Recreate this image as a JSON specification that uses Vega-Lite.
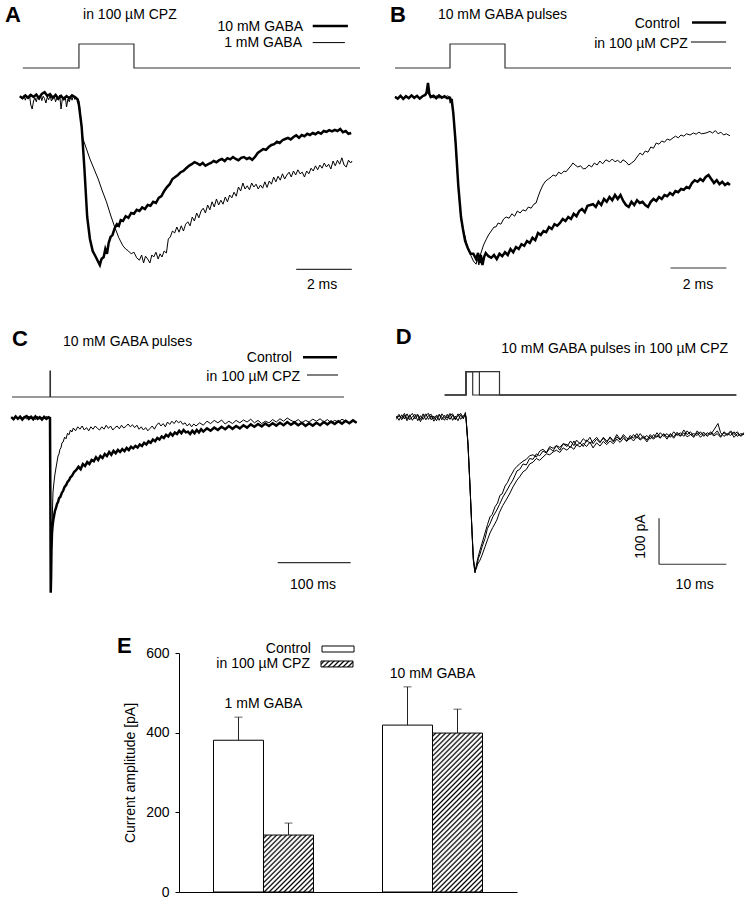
{
"$schema":"https://vega.github.io/schema/vega-lite/v6.json",
"padding":0,
"background":"white",
"config":{
 "view":{"stroke":null},
 "font":"Liberation Sans",
 "text":{"font":"Liberation Sans","fontSize":14,"baseline":"middle","color":"#000"},
 "axis":{"labelFont":"Liberation Sans","titleFont":"Liberation Sans","labelFontSize":14,"titleFontSize":14,"titleFontWeight":"normal","labelColor":"#000","titleColor":"#000","domainColor":"#000","tickColor":"#000","grid":false}
},
"params":[{"name":"hatch","value":[
{"offset":0,"color":"#fff"},{"offset":0.0071,"color":"#fff"},{"offset":0.0155,"color":"#000"},
{"offset":0.0238,"color":"#fff"},{"offset":0.0310,"color":"#fff"},{"offset":0.0393,"color":"#000"},
{"offset":0.0476,"color":"#fff"},{"offset":0.0548,"color":"#fff"},{"offset":0.0631,"color":"#000"},
{"offset":0.0714,"color":"#fff"},{"offset":0.0786,"color":"#fff"},{"offset":0.0869,"color":"#000"},
{"offset":0.0952,"color":"#fff"},{"offset":0.1024,"color":"#fff"},{"offset":0.1107,"color":"#000"},
{"offset":0.1190,"color":"#fff"},{"offset":0.1262,"color":"#fff"},{"offset":0.1345,"color":"#000"},
{"offset":0.1429,"color":"#fff"},{"offset":0.1500,"color":"#fff"},{"offset":0.1583,"color":"#000"},
{"offset":0.1667,"color":"#fff"},{"offset":0.1738,"color":"#fff"},{"offset":0.1821,"color":"#000"},
{"offset":0.1905,"color":"#fff"},{"offset":0.1976,"color":"#fff"},{"offset":0.2060,"color":"#000"},
{"offset":0.2143,"color":"#fff"},{"offset":0.2214,"color":"#fff"},{"offset":0.2298,"color":"#000"},
{"offset":0.2381,"color":"#fff"},{"offset":0.2452,"color":"#fff"},{"offset":0.2536,"color":"#000"},
{"offset":0.2619,"color":"#fff"},{"offset":0.2690,"color":"#fff"},{"offset":0.2774,"color":"#000"},
{"offset":0.2857,"color":"#fff"},{"offset":0.2929,"color":"#fff"},{"offset":0.3012,"color":"#000"},
{"offset":0.3095,"color":"#fff"},{"offset":0.3167,"color":"#fff"},{"offset":0.3250,"color":"#000"},
{"offset":0.3333,"color":"#fff"},{"offset":0.3405,"color":"#fff"},{"offset":0.3488,"color":"#000"},
{"offset":0.3571,"color":"#fff"},{"offset":0.3643,"color":"#fff"},{"offset":0.3726,"color":"#000"},
{"offset":0.3810,"color":"#fff"},{"offset":0.3881,"color":"#fff"},{"offset":0.3964,"color":"#000"},
{"offset":0.4048,"color":"#fff"},{"offset":0.4119,"color":"#fff"},{"offset":0.4202,"color":"#000"},
{"offset":0.4286,"color":"#fff"},{"offset":0.4357,"color":"#fff"},{"offset":0.4440,"color":"#000"},
{"offset":0.4524,"color":"#fff"},{"offset":0.4595,"color":"#fff"},{"offset":0.4679,"color":"#000"},
{"offset":0.4762,"color":"#fff"},{"offset":0.4833,"color":"#fff"},{"offset":0.4917,"color":"#000"},
{"offset":0.5000,"color":"#fff"},{"offset":0.5071,"color":"#fff"},{"offset":0.5155,"color":"#000"},
{"offset":0.5238,"color":"#fff"},{"offset":0.5310,"color":"#fff"},{"offset":0.5393,"color":"#000"},
{"offset":0.5476,"color":"#fff"},{"offset":0.5548,"color":"#fff"},{"offset":0.5631,"color":"#000"},
{"offset":0.5714,"color":"#fff"},{"offset":0.5786,"color":"#fff"},{"offset":0.5869,"color":"#000"},
{"offset":0.5952,"color":"#fff"},{"offset":0.6024,"color":"#fff"},{"offset":0.6107,"color":"#000"},
{"offset":0.6190,"color":"#fff"},{"offset":0.6262,"color":"#fff"},{"offset":0.6345,"color":"#000"},
{"offset":0.6429,"color":"#fff"},{"offset":0.6500,"color":"#fff"},{"offset":0.6583,"color":"#000"},
{"offset":0.6667,"color":"#fff"},{"offset":0.6738,"color":"#fff"},{"offset":0.6821,"color":"#000"},
{"offset":0.6905,"color":"#fff"},{"offset":0.6976,"color":"#fff"},{"offset":0.7060,"color":"#000"},
{"offset":0.7143,"color":"#fff"},{"offset":0.7214,"color":"#fff"},{"offset":0.7298,"color":"#000"},
{"offset":0.7381,"color":"#fff"},{"offset":0.7452,"color":"#fff"},{"offset":0.7536,"color":"#000"},
{"offset":0.7619,"color":"#fff"},{"offset":0.7690,"color":"#fff"},{"offset":0.7774,"color":"#000"},
{"offset":0.7857,"color":"#fff"},{"offset":0.7929,"color":"#fff"},{"offset":0.8012,"color":"#000"},
{"offset":0.8095,"color":"#fff"},{"offset":0.8167,"color":"#fff"},{"offset":0.8250,"color":"#000"},
{"offset":0.8333,"color":"#fff"},{"offset":0.8405,"color":"#fff"},{"offset":0.8488,"color":"#000"},
{"offset":0.8571,"color":"#fff"},{"offset":0.8643,"color":"#fff"},{"offset":0.8726,"color":"#000"},
{"offset":0.8810,"color":"#fff"},{"offset":0.8881,"color":"#fff"},{"offset":0.8964,"color":"#000"},
{"offset":0.9048,"color":"#fff"},{"offset":0.9119,"color":"#fff"},{"offset":0.9202,"color":"#000"},
{"offset":0.9286,"color":"#fff"},{"offset":0.9357,"color":"#fff"},{"offset":0.9440,"color":"#000"},
{"offset":0.9524,"color":"#fff"},{"offset":0.9595,"color":"#fff"},{"offset":0.9679,"color":"#000"},
{"offset":0.9762,"color":"#fff"},{"offset":0.9833,"color":"#fff"},{"offset":0.9917,"color":"#000"},
{"offset":1,"color":"#fff"}
]}],
"datasets":{
"stimA":[{"t":-2.04,"i":72.5},{"t":0,"i":72.5},{"t":0.001,"i":132.5},{"t":2.0,"i":132.5},{"t":2.001,"i":72.5},{"t":10.22,"i":72.5}],
"stimB":[{"t":-2.0,"i":72.5},{"t":0,"i":72.5},{"t":0.001,"i":132.5},{"t":2.0,"i":132.5},{"t":2.001,"i":72.5},{"t":10.22,"i":72.5}],
"stimC":[{"t":-52,"i":52.5},{"t":0,"i":52.5},{"t":0.01,"i":117.5},{"t":0.6,"i":117.5},{"t":0.61,"i":52.5},{"t":402.7,"i":52.5}],
"stimD":[{"s":1,"t":-3.18,"i":50},{"s":1,"t":0,"i":50},{"s":1,"t":0.001,"i":100.7},{"s":1,"t":1,"i":100.7},{"s":1,"t":1.001,"i":50},{"s":1,"t":40.34,"i":50},
{"s":2,"t":-3.18,"i":50},{"s":2,"t":0,"i":50},{"s":2,"t":0.001,"i":100.7},{"s":2,"t":2,"i":100.7},{"s":2,"t":2.001,"i":50},{"s":2,"t":40.34,"i":50},
{"s":5,"t":-3.18,"i":50},{"s":5,"t":0,"i":50},{"s":5,"t":0.001,"i":100.7},{"s":5,"t":5,"i":100.7},{"s":5,"t":5.001,"i":50},{"s":5,"t":40.34,"i":50}],
"a10":[{"t":-2.15,"i":2},{"t":-2.05,"i":-3},{"t":-1.95,"i":4},{"t":-1.85,"i":-2},{"t":-1.75,"i":5},{"t":-1.65,"i":0},{"t":-1.55,"i":6},{"t":-1.45,"i":-3},{"t":-1.35,"i":8},{"t":-1.25,"i":12},{"t":-1.15,"i":3},{"t":-1.05,"i":7},{"t":-0.95,"i":-2},{"t":-0.85,"i":5},{"t":-0.75,"i":-4},{"t":-0.65,"i":3},{"t":-0.55,"i":-5},{"t":-0.45,"i":2},{"t":-0.35,"i":-3},{"t":-0.25,"i":4},{"t":-0.15,"i":0},{"t":-0.05,"i":-6},{"t":0,"i":-20},{"t":0.1,"i":-75},{"t":0.2,"i":-180},{"t":0.3,"i":-300},{"t":0.4,"i":-355},{"t":0.5,"i":-385},{"t":0.6,"i":-398},{"t":0.7,"i":-412},{"t":0.76,"i":-420},{"t":0.82,"i":-405},{"t":0.9,"i":-400},{"t":0.96,"i":-380},{"t":1.02,"i":-392},{"t":1.08,"i":-365},{"t":1.15,"i":-350},{"t":1.22,"i":-345},{"t":1.3,"i":-328},{"t":1.38,"i":-318},{"t":1.45,"i":-322},{"t":1.52,"i":-308},{"t":1.6,"i":-310},{"t":1.7,"i":-298},{"t":1.8,"i":-302},{"t":1.9,"i":-290},{"t":2.0,"i":-292},{"t":2.1,"i":-282},{"t":2.2,"i":-285},{"t":2.3,"i":-276},{"t":2.4,"i":-280},{"t":2.5,"i":-270},{"t":2.6,"i":-272},{"t":2.7,"i":-262},{"t":2.8,"i":-265},{"t":2.9,"i":-252},{"t":3.0,"i":-248},{"t":3.1,"i":-235},{"t":3.2,"i":-225},{"t":3.3,"i":-218},{"t":3.4,"i":-205},{"t":3.5,"i":-200},{"t":3.6,"i":-195},{"t":3.7,"i":-188},{"t":3.8,"i":-185},{"t":3.9,"i":-178},{"t":4.0,"i":-172},{"t":4.1,"i":-168},{"t":4.2,"i":-163},{"t":4.3,"i":-166},{"t":4.4,"i":-170},{"t":4.5,"i":-165},{"t":4.6,"i":-172},{"t":4.7,"i":-168},{"t":4.8,"i":-165},{"t":4.9,"i":-160},{"t":5.0,"i":-163},{"t":5.1,"i":-158},{"t":5.2,"i":-155},{"t":5.3,"i":-160},{"t":5.4,"i":-153},{"t":5.5,"i":-156},{"t":5.6,"i":-150},{"t":5.7,"i":-155},{"t":5.8,"i":-158},{"t":5.9,"i":-152},{"t":6.0,"i":-150},{"t":6.1,"i":-155},{"t":6.2,"i":-152},{"t":6.3,"i":-157},{"t":6.4,"i":-150},{"t":6.5,"i":-140},{"t":6.6,"i":-135},{"t":6.7,"i":-130},{"t":6.8,"i":-132},{"t":6.9,"i":-125},{"t":7.0,"i":-120},{"t":7.1,"i":-118},{"t":7.2,"i":-112},{"t":7.3,"i":-115},{"t":7.4,"i":-108},{"t":7.5,"i":-105},{"t":7.6,"i":-102},{"t":7.7,"i":-106},{"t":7.8,"i":-100},{"t":7.9,"i":-96},{"t":8.0,"i":-102},{"t":8.1,"i":-95},{"t":8.2,"i":-98},{"t":8.3,"i":-92},{"t":8.4,"i":-95},{"t":8.5,"i":-90},{"t":8.6,"i":-93},{"t":8.7,"i":-88},{"t":8.8,"i":-92},{"t":8.9,"i":-85},{"t":9.0,"i":-87},{"t":9.1,"i":-83},{"t":9.2,"i":-86},{"t":9.3,"i":-82},{"t":9.4,"i":-85},{"t":9.5,"i":-80},{"t":9.6,"i":-88},{"t":9.7,"i":-85},{"t":9.8,"i":-92},{"t":9.9,"i":-90}],
"a1":[{"t":-2.15,"i":0},{"t":-2.05,"i":-5},{"t":-2.0,"i":4},{"t":-1.95,"i":-8},{"t":-1.9,"i":2},{"t":-1.85,"i":-4},{"t":-1.8,"i":6},{"t":-1.75,"i":-20},{"t":-1.7,"i":-30},{"t":-1.65,"i":-10},{"t":-1.6,"i":-2},{"t":-1.55,"i":-12},{"t":-1.5,"i":3},{"t":-1.45,"i":-6},{"t":-1.4,"i":5},{"t":-1.35,"i":-9},{"t":-1.3,"i":2},{"t":-1.25,"i":-4},{"t":-1.2,"i":-15},{"t":-1.15,"i":0},{"t":-1.1,"i":-7},{"t":-1.05,"i":4},{"t":-1.0,"i":-10},{"t":-0.95,"i":-3},{"t":-0.9,"i":3},{"t":-0.85,"i":-12},{"t":-0.8,"i":-2},{"t":-0.75,"i":-8},{"t":-0.7,"i":5},{"t":-0.65,"i":-30},{"t":-0.6,"i":-3},{"t":-0.55,"i":-8},{"t":-0.5,"i":2},{"t":-0.45,"i":-25},{"t":-0.4,"i":-5},{"t":-0.35,"i":-12},{"t":-0.3,"i":0},{"t":-0.25,"i":-8},{"t":-0.2,"i":4},{"t":-0.15,"i":-6},{"t":-0.1,"i":0},{"t":-0.05,"i":-3},{"t":0.0,"i":-10},{"t":0.05,"i":-40},{"t":0.1,"i":-80},{"t":0.15,"i":-105},{"t":0.25,"i":-125},{"t":0.4,"i":-155},{"t":0.55,"i":-180},{"t":0.7,"i":-205},{"t":0.85,"i":-235},{"t":1.0,"i":-262},{"t":1.15,"i":-295},{"t":1.3,"i":-325},{"t":1.45,"i":-352},{"t":1.6,"i":-372},{"t":1.7,"i":-380},{"t":1.8,"i":-385},{"t":1.9,"i":-392},{"t":2.0,"i":-388},{"t":2.1,"i":-402},{"t":2.2,"i":-408},{"t":2.28,"i":-395},{"t":2.35,"i":-415},{"t":2.42,"i":-398},{"t":2.5,"i":-405},{"t":2.58,"i":-415},{"t":2.65,"i":-395},{"t":2.72,"i":-400},{"t":2.8,"i":-388},{"t":2.88,"i":-405},{"t":2.95,"i":-392},{"t":3.02,"i":-400},{"t":3.1,"i":-385},{"t":3.18,"i":-390},{"t":3.25,"i":-355},{"t":3.32,"i":-350},{"t":3.4,"i":-335},{"t":3.48,"i":-340},{"t":3.56,"i":-325},{"t":3.64,"i":-338},{"t":3.72,"i":-322},{"t":3.8,"i":-335},{"t":3.88,"i":-318},{"t":3.96,"i":-312},{"t":4.04,"i":-322},{"t":4.12,"i":-300},{"t":4.2,"i":-310},{"t":4.28,"i":-290},{"t":4.36,"i":-302},{"t":4.44,"i":-285},{"t":4.52,"i":-278},{"t":4.6,"i":-290},{"t":4.68,"i":-270},{"t":4.76,"i":-282},{"t":4.84,"i":-262},{"t":4.92,"i":-275},{"t":5.0,"i":-255},{"t":5.08,"i":-270},{"t":5.16,"i":-258},{"t":5.24,"i":-268},{"t":5.32,"i":-250},{"t":5.4,"i":-262},{"t":5.48,"i":-245},{"t":5.56,"i":-252},{"t":5.64,"i":-238},{"t":5.72,"i":-248},{"t":5.8,"i":-225},{"t":5.88,"i":-235},{"t":5.96,"i":-215},{"t":6.04,"i":-230},{"t":6.12,"i":-222},{"t":6.2,"i":-232},{"t":6.28,"i":-215},{"t":6.36,"i":-225},{"t":6.44,"i":-218},{"t":6.52,"i":-230},{"t":6.6,"i":-220},{"t":6.68,"i":-228},{"t":6.76,"i":-212},{"t":6.84,"i":-226},{"t":6.92,"i":-210},{"t":7.0,"i":-218},{"t":7.08,"i":-200},{"t":7.16,"i":-212},{"t":7.24,"i":-198},{"t":7.32,"i":-208},{"t":7.4,"i":-192},{"t":7.48,"i":-205},{"t":7.56,"i":-195},{"t":7.64,"i":-188},{"t":7.72,"i":-200},{"t":7.8,"i":-185},{"t":7.88,"i":-195},{"t":7.96,"i":-182},{"t":8.04,"i":-192},{"t":8.12,"i":-188},{"t":8.2,"i":-200},{"t":8.28,"i":-185},{"t":8.36,"i":-192},{"t":8.44,"i":-178},{"t":8.52,"i":-185},{"t":8.6,"i":-172},{"t":8.68,"i":-182},{"t":8.76,"i":-170},{"t":8.84,"i":-178},{"t":8.92,"i":-165},{"t":9.0,"i":-175},{"t":9.08,"i":-168},{"t":9.16,"i":-180},{"t":9.24,"i":-160},{"t":9.32,"i":-172},{"t":9.4,"i":-158},{"t":9.48,"i":-168},{"t":9.56,"i":-152},{"t":9.64,"i":-170},{"t":9.72,"i":-175},{"t":9.8,"i":-158},{"t":9.88,"i":-165},{"t":9.93,"i":-160}],
"bc":[{"t":-2.0,"i":0},{"t":-1.9,"i":-4},{"t":-1.8,"i":3},{"t":-1.7,"i":-5},{"t":-1.6,"i":2},{"t":-1.5,"i":-3},{"t":-1.4,"i":4},{"t":-1.3,"i":-2},{"t":-1.2,"i":3},{"t":-1.1,"i":-4},{"t":-1.0,"i":2},{"t":-0.9,"i":5},{"t":-0.85,"i":12},{"t":-0.8,"i":35},{"t":-0.75,"i":8},{"t":-0.7,"i":0},{"t":-0.6,"i":3},{"t":-0.5,"i":-3},{"t":-0.4,"i":4},{"t":-0.3,"i":-2},{"t":-0.2,"i":2},{"t":-0.1,"i":-3},{"t":0.0,"i":-2},{"t":0.03,"i":-15},{"t":0.06,"i":-5},{"t":0.12,"i":-40},{"t":0.2,"i":-110},{"t":0.3,"i":-220},{"t":0.4,"i":-300},{"t":0.47,"i":-330},{"t":0.55,"i":-360},{"t":0.65,"i":-378},{"t":0.75,"i":-392},{"t":0.85,"i":-392},{"t":0.95,"i":-405},{"t":1.02,"i":-390},{"t":1.08,"i":-415},{"t":1.12,"i":-395},{"t":1.18,"i":-420},{"t":1.24,"i":-400},{"t":1.3,"i":-390},{"t":1.4,"i":-398},{"t":1.5,"i":-402},{"t":1.6,"i":-395},{"t":1.7,"i":-405},{"t":1.8,"i":-392},{"t":1.9,"i":-398},{"t":2.0,"i":-388},{"t":2.1,"i":-395},{"t":2.2,"i":-380},{"t":2.3,"i":-388},{"t":2.4,"i":-375},{"t":2.5,"i":-380},{"t":2.6,"i":-368},{"t":2.7,"i":-372},{"t":2.8,"i":-360},{"t":2.9,"i":-365},{"t":3.0,"i":-352},{"t":3.1,"i":-358},{"t":3.2,"i":-340},{"t":3.3,"i":-345},{"t":3.4,"i":-335},{"t":3.5,"i":-338},{"t":3.6,"i":-325},{"t":3.7,"i":-330},{"t":3.8,"i":-318},{"t":3.9,"i":-322},{"t":4.0,"i":-315},{"t":4.1,"i":-305},{"t":4.2,"i":-310},{"t":4.3,"i":-300},{"t":4.4,"i":-305},{"t":4.5,"i":-292},{"t":4.6,"i":-298},{"t":4.7,"i":-285},{"t":4.8,"i":-280},{"t":4.9,"i":-288},{"t":5.0,"i":-272},{"t":5.1,"i":-270},{"t":5.2,"i":-268},{"t":5.3,"i":-275},{"t":5.4,"i":-262},{"t":5.5,"i":-270},{"t":5.6,"i":-255},{"t":5.7,"i":-262},{"t":5.8,"i":-250},{"t":5.9,"i":-258},{"t":6.0,"i":-245},{"t":6.1,"i":-255},{"t":6.2,"i":-245},{"t":6.3,"i":-260},{"t":6.4,"i":-270},{"t":6.5,"i":-275},{"t":6.6,"i":-262},{"t":6.7,"i":-270},{"t":6.8,"i":-258},{"t":6.9,"i":-265},{"t":7.0,"i":-262},{"t":7.1,"i":-270},{"t":7.2,"i":-275},{"t":7.3,"i":-262},{"t":7.4,"i":-255},{"t":7.5,"i":-260},{"t":7.6,"i":-250},{"t":7.7,"i":-255},{"t":7.8,"i":-245},{"t":7.9,"i":-248},{"t":8.0,"i":-240},{"t":8.1,"i":-245},{"t":8.2,"i":-235},{"t":8.3,"i":-238},{"t":8.4,"i":-230},{"t":8.5,"i":-232},{"t":8.6,"i":-225},{"t":8.7,"i":-228},{"t":8.8,"i":-215},{"t":8.9,"i":-208},{"t":9.0,"i":-212},{"t":9.1,"i":-205},{"t":9.2,"i":-210},{"t":9.3,"i":-200},{"t":9.4,"i":-195},{"t":9.5,"i":-205},{"t":9.6,"i":-215},{"t":9.7,"i":-208},{"t":9.8,"i":-218},{"t":9.9,"i":-212},{"t":10.0,"i":-220},{"t":10.1,"i":-215},{"t":10.18,"i":-220}],
"bz":[{"t":-2.0,"i":2},{"t":-1.9,"i":-3},{"t":-1.8,"i":4},{"t":-1.7,"i":-2},{"t":-1.6,"i":3},{"t":-1.5,"i":-4},{"t":-1.4,"i":2},{"t":-1.3,"i":-3},{"t":-1.2,"i":5},{"t":-1.1,"i":-2},{"t":-1.0,"i":3},{"t":-0.9,"i":6},{"t":-0.8,"i":10},{"t":-0.7,"i":2},{"t":-0.6,"i":-2},{"t":-0.5,"i":3},{"t":-0.4,"i":-3},{"t":-0.3,"i":2},{"t":-0.2,"i":-2},{"t":-0.1,"i":3},{"t":0.0,"i":0},{"t":0.06,"i":-8},{"t":0.12,"i":-45},{"t":0.2,"i":-115},{"t":0.3,"i":-225},{"t":0.4,"i":-305},{"t":0.47,"i":-330},{"t":0.55,"i":-350},{"t":0.65,"i":-380},{"t":0.75,"i":-395},{"t":0.85,"i":-410},{"t":0.95,"i":-418},{"t":1.0,"i":-405},{"t":1.05,"i":-420},{"t":1.1,"i":-395},{"t":1.15,"i":-385},{"t":1.22,"i":-370},{"t":1.31,"i":-357},{"t":1.4,"i":-345},{"t":1.5,"i":-335},{"t":1.6,"i":-325},{"t":1.67,"i":-325},{"t":1.75,"i":-315},{"t":1.85,"i":-318},{"t":1.95,"i":-305},{"t":2.04,"i":-300},{"t":2.15,"i":-303},{"t":2.25,"i":-292},{"t":2.35,"i":-298},{"t":2.45,"i":-285},{"t":2.55,"i":-290},{"t":2.65,"i":-282},{"t":2.75,"i":-285},{"t":2.85,"i":-275},{"t":2.95,"i":-278},{"t":3.05,"i":-268},{"t":3.13,"i":-265},{"t":3.2,"i":-250},{"t":3.28,"i":-235},{"t":3.38,"i":-220},{"t":3.48,"i":-210},{"t":3.58,"i":-205},{"t":3.68,"i":-200},{"t":3.75,"i":-195},{"t":3.85,"i":-198},{"t":3.95,"i":-188},{"t":4.05,"i":-192},{"t":4.15,"i":-185},{"t":4.22,"i":-187},{"t":4.3,"i":-180},{"t":4.4,"i":-172},{"t":4.47,"i":-165},{"t":4.55,"i":-170},{"t":4.65,"i":-175},{"t":4.75,"i":-172},{"t":4.85,"i":-180},{"t":4.95,"i":-178},{"t":5.05,"i":-170},{"t":5.15,"i":-175},{"t":5.25,"i":-165},{"t":5.35,"i":-170},{"t":5.45,"i":-160},{"t":5.55,"i":-167},{"t":5.67,"i":-157},{"t":5.8,"i":-162},{"t":5.9,"i":-155},{"t":6.0,"i":-162},{"t":6.1,"i":-158},{"t":6.2,"i":-165},{"t":6.29,"i":-157},{"t":6.4,"i":-162},{"t":6.5,"i":-170},{"t":6.6,"i":-165},{"t":6.7,"i":-160},{"t":6.8,"i":-150},{"t":6.91,"i":-140},{"t":7.0,"i":-145},{"t":7.1,"i":-135},{"t":7.2,"i":-138},{"t":7.3,"i":-125},{"t":7.4,"i":-128},{"t":7.5,"i":-115},{"t":7.6,"i":-118},{"t":7.7,"i":-110},{"t":7.8,"i":-113},{"t":7.9,"i":-105},{"t":8.0,"i":-108},{"t":8.11,"i":-102},{"t":8.2,"i":-98},{"t":8.3,"i":-102},{"t":8.4,"i":-95},{"t":8.5,"i":-98},{"t":8.6,"i":-92},{"t":8.73,"i":-95},{"t":8.85,"i":-90},{"t":8.95,"i":-93},{"t":9.05,"i":-88},{"t":9.15,"i":-92},{"t":9.31,"i":-90},{"t":9.45,"i":-86},{"t":9.55,"i":-90},{"t":9.65,"i":-84},{"t":9.75,"i":-92},{"t":9.85,"i":-88},{"t":9.95,"i":-95},{"t":10.05,"i":-92},{"t":10.18,"i":-97}],
"cc":[{"t":-53,"i":2},{"t":-50,"i":-3},{"t":-47,"i":4},{"t":-44,"i":-2},{"t":-41,"i":3},{"t":-38,"i":-4},{"t":-35,"i":2},{"t":-32,"i":5},{"t":-29,"i":-2},{"t":-26,"i":3},{"t":-23,"i":-3},{"t":-20,"i":4},{"t":-17,"i":-2},{"t":-14,"i":2},{"t":-11,"i":-4},{"t":-8,"i":3},{"t":-5,"i":-2},{"t":-2,"i":2},{"t":0,"i":0},{"t":0.5,"i":-200},{"t":1.0,"i":-437},{"t":1.5,"i":-400},{"t":2.0,"i":-330},{"t":2.7,"i":-290},{"t":3.5,"i":-270},{"t":4.5,"i":-255},{"t":5.5,"i":-245},{"t":6.8,"i":-232},{"t":8.2,"i":-225},{"t":9.6,"i":-215},{"t":11,"i":-210},{"t":12.5,"i":-200},{"t":14,"i":-198},{"t":16,"i":-188},{"t":18,"i":-182},{"t":20,"i":-172},{"t":22,"i":-168},{"t":24,"i":-160},{"t":26,"i":-156},{"t":28,"i":-148},{"t":30,"i":-145},{"t":33,"i":-135},{"t":36,"i":-130},{"t":39,"i":-122},{"t":42,"i":-128},{"t":45,"i":-115},{"t":48,"i":-120},{"t":51,"i":-110},{"t":54,"i":-115},{"t":57,"i":-105},{"t":60,"i":-108},{"t":63,"i":-98},{"t":66,"i":-105},{"t":69,"i":-95},{"t":72,"i":-100},{"t":75,"i":-90},{"t":78,"i":-95},{"t":81,"i":-85},{"t":84,"i":-92},{"t":87,"i":-82},{"t":90,"i":-88},{"t":93,"i":-80},{"t":96,"i":-85},{"t":99,"i":-78},{"t":102,"i":-83},{"t":105,"i":-75},{"t":108,"i":-80},{"t":111,"i":-72},{"t":114,"i":-76},{"t":117,"i":-70},{"t":120,"i":-74},{"t":123,"i":-66},{"t":126,"i":-70},{"t":129,"i":-62},{"t":132,"i":-66},{"t":135,"i":-58},{"t":138,"i":-62},{"t":141,"i":-54},{"t":144,"i":-58},{"t":147,"i":-50},{"t":150,"i":-54},{"t":153,"i":-46},{"t":156,"i":-50},{"t":159,"i":-42},{"t":162,"i":-46},{"t":165,"i":-38},{"t":168,"i":-44},{"t":171,"i":-36},{"t":174,"i":-40},{"t":177,"i":-32},{"t":180,"i":-38},{"t":183,"i":-30},{"t":186,"i":-36},{"t":189,"i":-34},{"t":192,"i":-40},{"t":195,"i":-32},{"t":198,"i":-38},{"t":201,"i":-30},{"t":204,"i":-36},{"t":207,"i":-28},{"t":210,"i":-34},{"t":215,"i":-26},{"t":220,"i":-32},{"t":225,"i":-24},{"t":230,"i":-30},{"t":235,"i":-22},{"t":240,"i":-28},{"t":245,"i":-20},{"t":250,"i":-27},{"t":255,"i":-20},{"t":260,"i":-26},{"t":265,"i":-18},{"t":270,"i":-24},{"t":275,"i":-16},{"t":280,"i":-22},{"t":285,"i":-15},{"t":290,"i":-21},{"t":295,"i":-14},{"t":300,"i":-20},{"t":305,"i":-13},{"t":310,"i":-19},{"t":315,"i":-12},{"t":320,"i":-18},{"t":325,"i":-10},{"t":330,"i":-17},{"t":335,"i":-11},{"t":340,"i":-18},{"t":345,"i":-12},{"t":350,"i":-20},{"t":355,"i":-13},{"t":360,"i":-19},{"t":365,"i":-12},{"t":370,"i":-18},{"t":375,"i":-10},{"t":380,"i":-16},{"t":385,"i":-9},{"t":390,"i":-15},{"t":395,"i":-8},{"t":400,"i":-14},{"t":405,"i":-7},{"t":410,"i":-13},{"t":415,"i":-6},{"t":420,"i":-12}],
"cz":[{"t":-53,"i":3},{"t":-50,"i":-4},{"t":-47,"i":5},{"t":-44,"i":-2},{"t":-41,"i":6},{"t":-38,"i":0},{"t":-35,"i":4},{"t":-32,"i":-3},{"t":-29,"i":5},{"t":-26,"i":-2},{"t":-23,"i":3},{"t":-20,"i":-4},{"t":-17,"i":4},{"t":-14,"i":-3},{"t":-11,"i":2},{"t":-8,"i":-2},{"t":-5,"i":4},{"t":-2,"i":0},{"t":0,"i":0},{"t":0.7,"i":-250},{"t":1.4,"i":-405},{"t":2.1,"i":-330},{"t":2.7,"i":-290},{"t":3.4,"i":-230},{"t":4.1,"i":-185},{"t":5.5,"i":-160},{"t":6.8,"i":-140},{"t":8.2,"i":-125},{"t":9.6,"i":-110},{"t":11,"i":-95},{"t":12.3,"i":-90},{"t":13.7,"i":-78},{"t":15,"i":-75},{"t":16.4,"i":-62},{"t":18,"i":-60},{"t":20,"i":-48},{"t":22,"i":-52},{"t":24,"i":-38},{"t":26,"i":-42},{"t":28,"i":-30},{"t":30,"i":-35},{"t":32,"i":-25},{"t":35,"i":-32},{"t":38,"i":-22},{"t":41,"i":-28},{"t":44,"i":-20},{"t":47,"i":-30},{"t":50,"i":-24},{"t":53,"i":-32},{"t":56,"i":-22},{"t":59,"i":-28},{"t":62,"i":-20},{"t":65,"i":-26},{"t":68,"i":-30},{"t":71,"i":-22},{"t":74,"i":-28},{"t":77,"i":-18},{"t":80,"i":-26},{"t":83,"i":-20},{"t":86,"i":-30},{"t":89,"i":-24},{"t":92,"i":-20},{"t":95,"i":-27},{"t":98,"i":-18},{"t":101,"i":-25},{"t":104,"i":-21},{"t":107,"i":-15},{"t":110,"i":-22},{"t":113,"i":-17},{"t":116,"i":-24},{"t":119,"i":-18},{"t":122,"i":-28},{"t":125,"i":-22},{"t":128,"i":-30},{"t":131,"i":-24},{"t":134,"i":-32},{"t":137,"i":-26},{"t":140,"i":-20},{"t":143,"i":-28},{"t":146,"i":-18},{"t":149,"i":-12},{"t":152,"i":-20},{"t":155,"i":-14},{"t":158,"i":-22},{"t":161,"i":-10},{"t":164,"i":-16},{"t":167,"i":-8},{"t":170,"i":-14},{"t":173,"i":-6},{"t":176,"i":-12},{"t":179,"i":-8},{"t":182,"i":-16},{"t":185,"i":-12},{"t":188,"i":-20},{"t":191,"i":-14},{"t":194,"i":-22},{"t":197,"i":-15},{"t":200,"i":-20},{"t":205,"i":-12},{"t":210,"i":-18},{"t":215,"i":-8},{"t":220,"i":-14},{"t":225,"i":-6},{"t":230,"i":-12},{"t":235,"i":-5},{"t":240,"i":-15},{"t":245,"i":-8},{"t":250,"i":-14},{"t":255,"i":-6},{"t":260,"i":-12},{"t":265,"i":-5},{"t":270,"i":-10},{"t":275,"i":-3},{"t":280,"i":-12},{"t":285,"i":-6},{"t":290,"i":-14},{"t":295,"i":-8},{"t":300,"i":-12},{"t":305,"i":-4},{"t":310,"i":-10},{"t":315,"i":-2},{"t":320,"i":-8},{"t":325,"i":0},{"t":330,"i":-6},{"t":335,"i":-10},{"t":340,"i":-4},{"t":345,"i":-12},{"t":350,"i":-6},{"t":355,"i":-10},{"t":360,"i":-3},{"t":365,"i":-8},{"t":370,"i":-2},{"t":375,"i":-10},{"t":380,"i":-4},{"t":385,"i":-12},{"t":390,"i":-6},{"t":395,"i":-10},{"t":400,"i":-3},{"t":405,"i":-8},{"t":410,"i":-14},{"t":415,"i":-6},{"t":420,"i":-12}],
"dtr":[
{"s":1,"t":-10.4,"i":0},{"s":1,"t":-10.0,"i":8},{"s":1,"t":-9.6,"i":-4},{"s":1,"t":-9.2,"i":6},{"s":1,"t":-8.8,"i":-6},{"s":1,"t":-8.4,"i":4},{"s":1,"t":-8.0,"i":10},{"s":1,"t":-7.6,"i":-2},{"s":1,"t":-7.2,"i":6},{"s":1,"t":-6.8,"i":-8},{"s":1,"t":-6.4,"i":3},{"s":1,"t":-6.0,"i":9},{"s":1,"t":-5.6,"i":-3},{"s":1,"t":-5.2,"i":5},{"s":1,"t":-4.8,"i":-7},{"s":1,"t":-4.4,"i":2},{"s":1,"t":-4.0,"i":8},{"s":1,"t":-3.6,"i":-4},{"s":1,"t":-3.2,"i":6},{"s":1,"t":-2.8,"i":0},{"s":1,"t":-2.4,"i":10},{"s":1,"t":-2.0,"i":-5},{"s":1,"t":-1.6,"i":4},{"s":1,"t":-1.2,"i":-6},{"s":1,"t":-0.8,"i":7},{"s":1,"t":-0.4,"i":-2},{"s":1,"t":-0.1,"i":12},{"s":1,"t":0.0,"i":0},{"s":1,"t":0.3,"i":-60},{"s":1,"t":0.6,"i":-150},{"s":1,"t":0.9,"i":-250},{"s":1,"t":1.1,"i":-310},{"s":1,"t":1.34,"i":-337},{"s":1,"t":1.6,"i":-315},{"s":1,"t":1.85,"i":-300},{"s":1,"t":2.09,"i":-287},{"s":1,"t":2.4,"i":-272},{"s":1,"t":2.84,"i":-250},{"s":1,"t":3.2,"i":-232},{"s":1,"t":3.58,"i":-215},{"s":1,"t":3.9,"i":-210},{"s":1,"t":4.33,"i":-193},{"s":1,"t":4.7,"i":-185},{"s":1,"t":5.07,"i":-168},{"s":1,"t":5.4,"i":-165},{"s":1,"t":5.82,"i":-148},{"s":1,"t":6.2,"i":-140},{"s":1,"t":6.57,"i":-128},{"s":1,"t":6.9,"i":-120},{"s":1,"t":7.2,"i":-112},{"s":1,"t":7.61,"i":-105},{"s":1,"t":8.0,"i":-100},{"s":1,"t":8.51,"i":-94},{"s":1,"t":9.0,"i":-90},{"s":1,"t":9.5,"i":-82},{"s":1,"t":10.0,"i":-80},{"s":1,"t":10.5,"i":-85},{"s":1,"t":11.0,"i":-72},{"s":1,"t":11.49,"i":-68},{"s":1,"t":12.0,"i":-75},{"s":1,"t":12.5,"i":-62},{"s":1,"t":12.99,"i":-66},{"s":1,"t":13.5,"i":-60},{"s":1,"t":14.0,"i":-70},{"s":1,"t":14.5,"i":-56},{"s":1,"t":15.07,"i":-58},{"s":1,"t":15.6,"i":-64},{"s":1,"t":16.1,"i":-50},{"s":1,"t":16.5,"i":-60},{"s":1,"t":17.01,"i":-54},{"s":1,"t":17.5,"i":-62},{"s":1,"t":18.0,"i":-48},{"s":1,"t":18.5,"i":-55},{"s":1,"t":18.96,"i":-50},{"s":1,"t":19.5,"i":-42},{"s":1,"t":20.0,"i":-52},{"s":1,"t":20.5,"i":-44},{"s":1,"t":21.0,"i":-54},{"s":1,"t":21.5,"i":-41},{"s":1,"t":22.0,"i":-50},{"s":1,"t":22.5,"i":-36},{"s":1,"t":23.0,"i":-46},{"s":1,"t":23.5,"i":-40},{"s":1,"t":24.0,"i":-50},{"s":1,"t":24.5,"i":-38},{"s":1,"t":25.0,"i":-44},{"s":1,"t":25.5,"i":-34},{"s":1,"t":26.0,"i":-46},{"s":1,"t":26.5,"i":-39},{"s":1,"t":27.0,"i":-48},{"s":1,"t":27.5,"i":-36},{"s":1,"t":28.0,"i":-44},{"s":1,"t":28.5,"i":-32},{"s":1,"t":29.0,"i":-42},{"s":1,"t":29.5,"i":-36},{"s":1,"t":30.0,"i":-46},{"s":1,"t":30.5,"i":-34},{"s":1,"t":31.0,"i":-41},{"s":1,"t":31.5,"i":-31},{"s":1,"t":32.0,"i":-39},{"s":1,"t":32.5,"i":-26},{"s":1,"t":33.0,"i":-36},{"s":1,"t":33.5,"i":-30},{"s":1,"t":34.0,"i":-40},{"s":1,"t":34.5,"i":-32},{"s":1,"t":35.0,"i":-42},{"s":1,"t":35.5,"i":-34},{"s":1,"t":36.0,"i":-38},{"s":1,"t":36.5,"i":-30},{"s":1,"t":37.0,"i":-36},{"s":1,"t":37.5,"i":-28},{"s":1,"t":38.0,"i":-40},{"s":1,"t":38.5,"i":-32},{"s":1,"t":39.0,"i":-38},{"s":1,"t":39.5,"i":-30},{"s":1,"t":40.0,"i":-42},{"s":1,"t":40.5,"i":-34},{"s":1,"t":41.0,"i":-38},{"s":1,"t":41.5,"i":-32},
{"s":2,"t":-10.4,"i":-3},{"s":2,"t":-10.0,"i":5},{"s":2,"t":-9.6,"i":0},{"s":2,"t":-9.2,"i":10},{"s":2,"t":-8.8,"i":-2},{"s":2,"t":-8.4,"i":7},{"s":2,"t":-8.0,"i":-5},{"s":2,"t":-7.6,"i":4},{"s":2,"t":-7.2,"i":8},{"s":2,"t":-6.8,"i":-3},{"s":2,"t":-6.4,"i":9},{"s":2,"t":-6.0,"i":-4},{"s":2,"t":-5.6,"i":5},{"s":2,"t":-5.2,"i":8},{"s":2,"t":-4.8,"i":-2},{"s":2,"t":-4.4,"i":6},{"s":2,"t":-4.0,"i":-5},{"s":2,"t":-3.6,"i":9},{"s":2,"t":-3.2,"i":1},{"s":2,"t":-2.8,"i":-4},{"s":2,"t":-2.4,"i":6},{"s":2,"t":-2.0,"i":9},{"s":2,"t":-1.6,"i":-2},{"s":2,"t":-1.2,"i":4},{"s":2,"t":-0.8,"i":10},{"s":2,"t":-0.4,"i":1},{"s":2,"t":-0.1,"i":6},{"s":2,"t":0.0,"i":0},{"s":2,"t":0.3,"i":-58},{"s":2,"t":0.6,"i":-150},{"s":2,"t":0.9,"i":-248},{"s":2,"t":1.1,"i":-308},{"s":2,"t":1.34,"i":-334},{"s":2,"t":1.6,"i":-325},{"s":2,"t":1.85,"i":-305},{"s":2,"t":2.09,"i":-296},{"s":2,"t":2.4,"i":-280},{"s":2,"t":2.84,"i":-262},{"s":2,"t":3.2,"i":-240},{"s":2,"t":3.58,"i":-230},{"s":2,"t":4.0,"i":-215},{"s":2,"t":4.6,"i":-200},{"s":2,"t":5.0,"i":-188},{"s":2,"t":5.5,"i":-172},{"s":2,"t":6.0,"i":-160},{"s":2,"t":6.57,"i":-145},{"s":2,"t":7.0,"i":-135},{"s":2,"t":7.61,"i":-115},{"s":2,"t":8.0,"i":-112},{"s":2,"t":8.51,"i":-100},{"s":2,"t":9.0,"i":-102},{"s":2,"t":9.5,"i":-88},{"s":2,"t":10.0,"i":-90},{"s":2,"t":10.5,"i":-78},{"s":2,"t":11.0,"i":-82},{"s":2,"t":11.49,"i":-72},{"s":2,"t":12.0,"i":-76},{"s":2,"t":12.5,"i":-66},{"s":2,"t":12.99,"i":-72},{"s":2,"t":13.5,"i":-60},{"s":2,"t":14.0,"i":-64},{"s":2,"t":14.5,"i":-56},{"s":2,"t":15.07,"i":-62},{"s":2,"t":15.6,"i":-50},{"s":2,"t":16.1,"i":-60},{"s":2,"t":16.5,"i":-48},{"s":2,"t":17.01,"i":-56},{"s":2,"t":17.5,"i":-45},{"s":2,"t":18.0,"i":-52},{"s":2,"t":18.5,"i":-42},{"s":2,"t":18.96,"i":-56},{"s":2,"t":19.5,"i":-46},{"s":2,"t":20.0,"i":-54},{"s":2,"t":20.5,"i":-42},{"s":2,"t":21.0,"i":-50},{"s":2,"t":21.5,"i":-44},{"s":2,"t":22.0,"i":-52},{"s":2,"t":22.5,"i":-41},{"s":2,"t":23.0,"i":-48},{"s":2,"t":23.5,"i":-36},{"s":2,"t":24.0,"i":-44},{"s":2,"t":24.5,"i":-46},{"s":2,"t":25.0,"i":-36},{"s":2,"t":25.5,"i":-44},{"s":2,"t":26.0,"i":-34},{"s":2,"t":26.5,"i":-44},{"s":2,"t":27.0,"i":-38},{"s":2,"t":27.5,"i":-46},{"s":2,"t":28.0,"i":-36},{"s":2,"t":28.5,"i":-42},{"s":2,"t":29.0,"i":-32},{"s":2,"t":29.5,"i":-40},{"s":2,"t":30.0,"i":-34},{"s":2,"t":30.5,"i":-42},{"s":2,"t":31.0,"i":-30},{"s":2,"t":31.5,"i":-38},{"s":2,"t":32.0,"i":-32},{"s":2,"t":32.5,"i":-40},{"s":2,"t":33.0,"i":-28},{"s":2,"t":33.5,"i":-36},{"s":2,"t":34.0,"i":-34},{"s":2,"t":34.5,"i":-38},{"s":2,"t":35.0,"i":-30},{"s":2,"t":35.5,"i":-40},{"s":2,"t":36.0,"i":-32},{"s":2,"t":36.5,"i":-36},{"s":2,"t":37.0,"i":-26},{"s":2,"t":37.6,"i":-12},{"s":2,"t":38.0,"i":-32},{"s":2,"t":38.5,"i":-40},{"s":2,"t":39.0,"i":-34},{"s":2,"t":39.5,"i":-38},{"s":2,"t":40.0,"i":-30},{"s":2,"t":40.5,"i":-40},{"s":2,"t":41.0,"i":-34},{"s":2,"t":41.5,"i":-36},
{"s":3,"t":-10.4,"i":4},{"s":3,"t":-10.0,"i":-5},{"s":3,"t":-9.6,"i":7},{"s":3,"t":-9.2,"i":-2},{"s":3,"t":-8.8,"i":9},{"s":3,"t":-8.4,"i":-4},{"s":3,"t":-8.0,"i":3},{"s":3,"t":-7.6,"i":8},{"s":3,"t":-7.2,"i":-6},{"s":3,"t":-6.8,"i":5},{"s":3,"t":-6.4,"i":-3},{"s":3,"t":-6.0,"i":6},{"s":3,"t":-5.6,"i":10},{"s":3,"t":-5.2,"i":-4},{"s":3,"t":-4.8,"i":4},{"s":3,"t":-4.4,"i":-6},{"s":3,"t":-4.0,"i":7},{"s":3,"t":-3.6,"i":2},{"s":3,"t":-3.2,"i":-5},{"s":3,"t":-2.8,"i":8},{"s":3,"t":-2.4,"i":-3},{"s":3,"t":-2.0,"i":6},{"s":3,"t":-1.6,"i":-4},{"s":3,"t":-1.2,"i":9},{"s":3,"t":-0.8,"i":-3},{"s":3,"t":-0.4,"i":5},{"s":3,"t":-0.1,"i":8},{"s":3,"t":0.0,"i":2},{"s":3,"t":0.3,"i":-55},{"s":3,"t":0.6,"i":-148},{"s":3,"t":0.9,"i":-245},{"s":3,"t":1.1,"i":-305},{"s":3,"t":1.34,"i":-330},{"s":3,"t":1.6,"i":-322},{"s":3,"t":1.85,"i":-315},{"s":3,"t":2.09,"i":-309},{"s":3,"t":2.4,"i":-298},{"s":3,"t":2.84,"i":-280},{"s":3,"t":3.2,"i":-265},{"s":3,"t":3.58,"i":-250},{"s":3,"t":4.0,"i":-238},{"s":3,"t":4.6,"i":-222},{"s":3,"t":5.0,"i":-205},{"s":3,"t":5.5,"i":-190},{"s":3,"t":6.0,"i":-178},{"s":3,"t":6.57,"i":-163},{"s":3,"t":7.0,"i":-150},{"s":3,"t":7.61,"i":-135},{"s":3,"t":8.0,"i":-128},{"s":3,"t":8.51,"i":-117},{"s":3,"t":9.0,"i":-112},{"s":3,"t":9.5,"i":-100},{"s":3,"t":10.0,"i":-96},{"s":3,"t":10.5,"i":-88},{"s":3,"t":11.0,"i":-92},{"s":3,"t":11.49,"i":-85},{"s":3,"t":12.0,"i":-78},{"s":3,"t":12.5,"i":-80},{"s":3,"t":12.99,"i":-74},{"s":3,"t":13.5,"i":-70},{"s":3,"t":14.0,"i":-75},{"s":3,"t":14.5,"i":-65},{"s":3,"t":15.07,"i":-70},{"s":3,"t":15.6,"i":-62},{"s":3,"t":16.1,"i":-68},{"s":3,"t":16.5,"i":-58},{"s":3,"t":17.01,"i":-63},{"s":3,"t":17.5,"i":-55},{"s":3,"t":18.0,"i":-62},{"s":3,"t":18.5,"i":-52},{"s":3,"t":18.96,"i":-65},{"s":3,"t":19.5,"i":-54},{"s":3,"t":20.0,"i":-61},{"s":3,"t":20.5,"i":-51},{"s":3,"t":21.0,"i":-58},{"s":3,"t":21.5,"i":-50},{"s":3,"t":22.0,"i":-56},{"s":3,"t":22.5,"i":-46},{"s":3,"t":23.0,"i":-53},{"s":3,"t":23.5,"i":-44},{"s":3,"t":24.0,"i":-51},{"s":3,"t":24.5,"i":-42},{"s":3,"t":25.0,"i":-50},{"s":3,"t":25.5,"i":-40},{"s":3,"t":26.0,"i":-48},{"s":3,"t":26.5,"i":-42},{"s":3,"t":27.0,"i":-52},{"s":3,"t":27.5,"i":-40},{"s":3,"t":28.0,"i":-46},{"s":3,"t":28.5,"i":-38},{"s":3,"t":29.0,"i":-44},{"s":3,"t":29.5,"i":-34},{"s":3,"t":30.0,"i":-42},{"s":3,"t":30.5,"i":-36},{"s":3,"t":31.0,"i":-44},{"s":3,"t":31.5,"i":-34},{"s":3,"t":32.0,"i":-40},{"s":3,"t":32.5,"i":-32},{"s":3,"t":33.0,"i":-41},{"s":3,"t":33.5,"i":-36},{"s":3,"t":34.0,"i":-42},{"s":3,"t":34.5,"i":-28},{"s":3,"t":35.0,"i":-36},{"s":3,"t":35.5,"i":-31},{"s":3,"t":36.0,"i":-40},{"s":3,"t":36.5,"i":-33},{"s":3,"t":37.0,"i":-39},{"s":3,"t":37.5,"i":-34},{"s":3,"t":38.0,"i":-42},{"s":3,"t":38.5,"i":-30},{"s":3,"t":39.0,"i":-36},{"s":3,"t":39.5,"i":-28},{"s":3,"t":40.0,"i":-36},{"s":3,"t":40.5,"i":-30},{"s":3,"t":41.0,"i":-40},{"s":3,"t":41.5,"i":-34}],
"bars":[{"g":"1 mM GABA","c":"Control","v":381,"e":439},{"g":"1 mM GABA","c":"in 100 µM CPZ","v":143,"e":173},{"g":"10 mM GABA","c":"Control","v":419,"e":515},{"g":"10 mM GABA","c":"in 100 µM CPZ","v":399,"e":459}]
},
"columns":2,
"align":"each",
"bounds":"flush",
"spacing":{"row":0,"column":5},
"concat":[
{
 "width":368,"height":300,
 "layer":[
  {"data":{"name":"stimA"},"mark":{"type":"line","stroke":"#333","strokeWidth":1.2},"encoding":{"x":{"field":"t","type":"quantitative","scale":{"domain":[-2.87,10.51],"nice":false,"zero":false},"axis":null},"y":{"field":"i","type":"quantitative","scale":{"domain":[-507.5,242.5],"nice":false,"zero":false},"axis":null}}},
  {"data":{"name":"a1"},"mark":{"type":"line","stroke":"#000","strokeWidth":1},"encoding":{"x":{"field":"t","type":"quantitative","scale":{"domain":[-2.87,10.51],"nice":false,"zero":false},"axis":null},"y":{"field":"i","type":"quantitative","scale":{"domain":[-507.5,242.5],"nice":false,"zero":false},"axis":null}}},
  {"data":{"name":"a10"},"mark":{"type":"line","stroke":"#000","strokeWidth":2.5},"encoding":{"x":{"field":"t","type":"quantitative","scale":{"domain":[-2.87,10.51],"nice":false,"zero":false},"axis":null},"y":{"field":"i","type":"quantitative","scale":{"domain":[-507.5,242.5],"nice":false,"zero":false},"axis":null}}},
  {"data":{"values":[{}]},"mark":{"type":"rule","stroke":"#333","strokeWidth":1.2},"encoding":{"x":{"datum":7.9,"type":"quantitative","axis":null},"x2":{"datum":9.92},"y":{"datum":-431,"type":"quantitative","axis":null}}},
  {"data":{"values":[{}]},"mark":{"type":"rule","stroke":"#000","strokeWidth":2.5},"encoding":{"x":{"datum":8.5,"type":"quantitative","axis":null},"x2":{"datum":9.78},"y":{"datum":177.5,"type":"quantitative","axis":null}}},
  {"data":{"values":[{}]},"mark":{"type":"rule","stroke":"#000","strokeWidth":1},"encoding":{"x":{"datum":8.5,"type":"quantitative","axis":null},"x2":{"datum":9.67},"y":{"datum":136,"type":"quantitative","axis":null}}},
  {"data":{"values":[{}]},"mark":{"type":"text","text":"A","fontSize":22,"fontWeight":"bold","align":"left"},"encoding":{"x":{"datum":-2.69,"type":"quantitative","axis":null},"y":{"datum":204,"type":"quantitative","axis":null}}},
  {"data":{"values":[{}]},"mark":{"type":"text","text":"in 100 µM CPZ","align":"left"},"encoding":{"x":{"datum":0.15,"type":"quantitative","axis":null},"y":{"datum":205,"type":"quantitative","axis":null}}},
  {"data":{"values":[{}]},"mark":{"type":"text","text":"10 mM GABA","align":"right"},"encoding":{"x":{"datum":8.15,"type":"quantitative","axis":null},"y":{"datum":175,"type":"quantitative","axis":null}}},
  {"data":{"values":[{}]},"mark":{"type":"text","text":"1 mM GABA","align":"right"},"encoding":{"x":{"datum":8.11,"type":"quantitative","axis":null},"y":{"datum":135,"type":"quantitative","axis":null}}},
  {"data":{"values":[{}]},"mark":{"type":"text","text":"2 ms","align":"center"},"encoding":{"x":{"datum":8.84,"type":"quantitative","axis":null},"y":{"datum":-470,"type":"quantitative","axis":null}}}
 ]
},
{
 "width":373,"height":300,
 "layer":[
  {"data":{"name":"stimB"},"mark":{"type":"line","stroke":"#333","strokeWidth":1.2},"encoding":{"x":{"field":"t","type":"quantitative","scale":{"domain":[-2.8,10.764],"nice":false,"zero":false},"axis":null},"y":{"field":"i","type":"quantitative","scale":{"domain":[-507.5,242.5],"nice":false,"zero":false},"axis":null}}},
  {"data":{"name":"bz"},"mark":{"type":"line","stroke":"#000","strokeWidth":1},"encoding":{"x":{"field":"t","type":"quantitative","scale":{"domain":[-2.8,10.764],"nice":false,"zero":false},"axis":null},"y":{"field":"i","type":"quantitative","scale":{"domain":[-507.5,242.5],"nice":false,"zero":false},"axis":null}}},
  {"data":{"name":"bc"},"mark":{"type":"line","stroke":"#000","strokeWidth":2.5},"encoding":{"x":{"field":"t","type":"quantitative","scale":{"domain":[-2.8,10.764],"nice":false,"zero":false},"axis":null},"y":{"field":"i","type":"quantitative","scale":{"domain":[-507.5,242.5],"nice":false,"zero":false},"axis":null}}},
  {"data":{"values":[{}]},"mark":{"type":"rule","stroke":"#333","strokeWidth":1.2},"encoding":{"x":{"datum":8.02,"type":"quantitative","axis":null},"x2":{"datum":10.05},"y":{"datum":-427.5,"type":"quantitative","axis":null}}},
  {"data":{"values":[{}]},"mark":{"type":"rule","stroke":"#000","strokeWidth":2.5},"encoding":{"x":{"datum":8.8,"type":"quantitative","axis":null},"x2":{"datum":10.04},"y":{"datum":186,"type":"quantitative","axis":null}}},
  {"data":{"values":[{}]},"mark":{"type":"rule","stroke":"#000","strokeWidth":1},"encoding":{"x":{"datum":8.76,"type":"quantitative","axis":null},"x2":{"datum":10.04},"y":{"datum":137.5,"type":"quantitative","axis":null}}},
  {"data":{"values":[{}]},"mark":{"type":"text","text":"B","fontSize":22,"fontWeight":"bold","align":"left"},"encoding":{"x":{"datum":-2.18,"type":"quantitative","axis":null},"y":{"datum":204,"type":"quantitative","axis":null}}},
  {"data":{"values":[{}]},"mark":{"type":"text","text":"10 mM GABA pulses","align":"left"},"encoding":{"x":{"datum":-0.44,"type":"quantitative","axis":null},"y":{"datum":205,"type":"quantitative","axis":null}}},
  {"data":{"values":[{}]},"mark":{"type":"text","text":"Control","align":"right"},"encoding":{"x":{"datum":8.36,"type":"quantitative","axis":null},"y":{"datum":182.5,"type":"quantitative","axis":null}}},
  {"data":{"values":[{}]},"mark":{"type":"text","text":"in 100 µM CPZ","align":"right"},"encoding":{"x":{"datum":8.65,"type":"quantitative","axis":null},"y":{"datum":132.5,"type":"quantitative","axis":null}}},
  {"data":{"values":[{}]},"mark":{"type":"text","text":"2 ms","align":"center"},"encoding":{"x":{"datum":9.02,"type":"quantitative","axis":null},"y":{"datum":-470,"type":"quantitative","axis":null}}}
 ]
},
{
 "width":368,"height":353,
 "layer":[
  {"data":{"name":"stimC"},"mark":{"type":"line","stroke":"#333","strokeWidth":1.2},"encoding":{"x":{"field":"t","type":"quantitative","scale":{"domain":[-68.49,435.62],"nice":false,"zero":false},"axis":null},"y":{"field":"i","type":"quantitative","scale":{"domain":[-587.5,295],"nice":false,"zero":false},"axis":null}}},
  {"data":{"name":"cz"},"mark":{"type":"line","stroke":"#000","strokeWidth":1},"encoding":{"x":{"field":"t","type":"quantitative","scale":{"domain":[-68.49,435.62],"nice":false,"zero":false},"axis":null},"y":{"field":"i","type":"quantitative","scale":{"domain":[-587.5,295],"nice":false,"zero":false},"axis":null}}},
  {"data":{"name":"cc"},"mark":{"type":"line","stroke":"#000","strokeWidth":2.5},"encoding":{"x":{"field":"t","type":"quantitative","scale":{"domain":[-68.49,435.62],"nice":false,"zero":false},"axis":null},"y":{"field":"i","type":"quantitative","scale":{"domain":[-587.5,295],"nice":false,"zero":false},"axis":null}}},
  {"data":{"values":[{}]},"mark":{"type":"rule","stroke":"#333","strokeWidth":1.2},"encoding":{"x":{"datum":311.9,"type":"quantitative","axis":null},"x2":{"datum":411.9},"y":{"datum":-361.7,"type":"quantitative","axis":null}}},
  {"data":{"values":[{}]},"mark":{"type":"rule","stroke":"#000","strokeWidth":2.5},"encoding":{"x":{"datum":346.6,"type":"quantitative","axis":null},"x2":{"datum":393.2},"y":{"datum":151.7,"type":"quantitative","axis":null}}},
  {"data":{"values":[{}]},"mark":{"type":"rule","stroke":"#000","strokeWidth":1},"encoding":{"x":{"datum":352.1,"type":"quantitative","axis":null},"x2":{"datum":394.5},"y":{"datum":107.5,"type":"quantitative","axis":null}}},
  {"data":{"values":[{}]},"mark":{"type":"text","text":"C","fontSize":22,"fontWeight":"bold","align":"left"},"encoding":{"x":{"datum":-52.05,"type":"quantitative","axis":null},"y":{"datum":197.5,"type":"quantitative","axis":null}}},
  {"data":{"values":[{}]},"mark":{"type":"text","text":"10 mM GABA pulses","align":"left"},"encoding":{"x":{"datum":17.8,"type":"quantitative","axis":null},"y":{"datum":190.8,"type":"quantitative","axis":null}}},
  {"data":{"values":[{}]},"mark":{"type":"text","text":"Control","align":"right"},"encoding":{"x":{"datum":331.5,"type":"quantitative","axis":null},"y":{"datum":149,"type":"quantitative","axis":null}}},
  {"data":{"values":[{}]},"mark":{"type":"text","text":"in 100 µM CPZ","align":"right"},"encoding":{"x":{"datum":342.5,"type":"quantitative","axis":null},"y":{"datum":103,"type":"quantitative","axis":null}}},
  {"data":{"values":[{}]},"mark":{"type":"text","text":"100 ms","align":"center"},"encoding":{"x":{"datum":360.3,"type":"quantitative","axis":null},"y":{"datum":-417.5,"type":"quantitative","axis":null}}}
 ]
},
{
 "width":373,"height":353,
 "layer":[
  {"data":{"name":"stimD"},"mark":{"type":"line","stroke":"#333","strokeWidth":1.2},"encoding":{"x":{"field":"t","type":"quantitative","scale":{"domain":[-13.88,41.79],"nice":false,"zero":false},"axis":null},"y":{"field":"i","type":"quantitative","scale":{"domain":[-510.9,256.5],"nice":false,"zero":false},"axis":null},"detail":{"field":"s","type":"nominal"}}},
  {"data":{"name":"dtr"},"mark":{"type":"line","stroke":"#000","strokeWidth":1},"encoding":{"x":{"field":"t","type":"quantitative","scale":{"domain":[-13.88,41.79],"nice":false,"zero":false},"axis":null},"y":{"field":"i","type":"quantitative","scale":{"domain":[-510.9,256.5],"nice":false,"zero":false},"axis":null},"detail":{"field":"s","type":"nominal"}}},
  {"data":{"values":[{}]},"mark":{"type":"rule","stroke":"#333","strokeWidth":1.2},"encoding":{"x":{"datum":28.81,"type":"quantitative","axis":null},"y":{"datum":-218,"type":"quantitative","axis":null},"y2":{"datum":-318}}},
  {"data":{"values":[{}]},"mark":{"type":"rule","stroke":"#333","strokeWidth":1.2},"encoding":{"x":{"datum":28.81,"type":"quantitative","axis":null},"x2":{"datum":38.85},"y":{"datum":-318,"type":"quantitative","axis":null}}},
  {"data":{"values":[{}]},"mark":{"type":"text","text":"D","fontSize":22,"fontWeight":"bold","align":"left"},"encoding":{"x":{"datum":-10.49,"type":"quantitative","axis":null},"y":{"datum":176.8,"type":"quantitative","axis":null}}},
  {"data":{"values":[{}]},"mark":{"type":"text","text":"10 mM GABA pulses in 100 µM CPZ","align":"left"},"encoding":{"x":{"datum":5.27,"type":"quantitative","axis":null},"y":{"datum":149.3,"type":"quantitative","axis":null}}},
  {"data":{"values":[{}]},"mark":{"type":"text","text":"100 pA","align":"center","angle":270},"encoding":{"x":{"datum":26.1,"type":"quantitative","axis":null},"y":{"datum":-258,"type":"quantitative","axis":null}}},
  {"data":{"values":[{}]},"mark":{"type":"text","text":"10 ms","align":"center"},"encoding":{"x":{"datum":34.13,"type":"quantitative","axis":null},"y":{"datum":-363,"type":"quantitative","axis":null}}}
 ]
},
{
 "width":368,"height":239,
 "layer":[
  {
   "data":{"name":"bars"},
   "encoding":{
    "x":{"field":"g","type":"nominal","sort":["1 mM GABA","10 mM GABA"],"scale":{"domain":["1 mM GABA","10 mM GABA"],"range":[179,517],"paddingInner":0.4083,"paddingOuter":0.2041},"axis":{"title":null,"labels":false,"ticks":false,"domain":true,"grid":false}},
    "y":{"field":"v","type":"quantitative","scale":{"domain":[0,600],"nice":false},"axis":{"title":"Current amplitude [pA]","values":[0,200,400,600],"offset":-179,"tickSize":4,"labelPadding":6,"titlePadding":8,"domain":true}}
   },
   "layer":[
    {"transform":[{"filter":"datum.c == 'Control'"}],"mark":{"type":"bar","fill":"#fff","stroke":"#000","strokeWidth":1},
     "encoding":{"xOffset":{"field":"c","type":"nominal","scale":{"domain":["Control","in 100 µM CPZ"],"paddingInner":0,"paddingOuter":0}}}},
    {"transform":[{"filter":"datum.c != 'Control' && datum.g == '1 mM GABA'"}],"mark":{"type":"bar","fill":{"expr":"{gradient:'linear',x1:0,y1:0,x2:1.809,y2:2.062,stops:hatch}"},"stroke":"#000","strokeWidth":1},
     "encoding":{"xOffset":{"field":"c","type":"nominal","scale":{"domain":["Control","in 100 µM CPZ"],"paddingInner":0,"paddingOuter":0}}}},
    {"transform":[{"filter":"datum.c != 'Control' && datum.g == '10 mM GABA'"}],"mark":{"type":"bar","fill":{"expr":"{gradient:'linear',x1:0,y1:0,x2:0.3744,y2:1.1905,stops:hatch}"},"stroke":"#000","strokeWidth":1},
     "encoding":{"xOffset":{"field":"c","type":"nominal","scale":{"domain":["Control","in 100 µM CPZ"],"paddingInner":0,"paddingOuter":0}}}},
    {"mark":{"type":"rule","stroke":"#222","strokeWidth":1},
     "encoding":{"xOffset":{"field":"c","type":"nominal","scale":{"domain":["Control","in 100 µM CPZ"],"paddingInner":0,"paddingOuter":0}},"y2":{"field":"e"}}},
    {"mark":{"type":"tick","orient":"horizontal","size":8,"thickness":1,"color":"#222"},
     "encoding":{"xOffset":{"field":"c","type":"nominal","scale":{"domain":["Control","in 100 µM CPZ"],"paddingInner":0,"paddingOuter":0}},"y":{"field":"e","type":"quantitative"}}},
    {"transform":[{"aggregate":[{"op":"max","field":"e","as":"top"}],"groupby":["g"]}],"mark":{"type":"text","dy":-13,"align":"center"},
     "encoding":{"y":{"field":"top","type":"quantitative"},"text":{"field":"g"}}}
   ]
  },
  {
   "data":{"values":[{}]},
   "layer":[
    {"mark":{"type":"rect","fill":"#fff","stroke":"#000","strokeWidth":1},
     "encoding":{"x":{"datum":0.875,"type":"quantitative","scale":{"domain":[0,1],"nice":false},"axis":null},"x2":{"datum":0.962},"y":{"datum":617.6,"type":"quantitative","scale":{"domain":[0,600],"nice":false},"axis":null},"y2":{"datum":602.5}}},
    {"mark":{"type":"rect","fill":{"expr":"{gradient:'linear',x1:0,y1:0,x2:6.279,y2:1.177,stops:hatch}"},"stroke":"#000","strokeWidth":1},
     "encoding":{"x":{"datum":0.8723,"type":"quantitative","scale":{"domain":[0,1],"nice":false},"axis":null},"x2":{"datum":0.9592},"y":{"datum":579.9,"type":"quantitative","scale":{"domain":[0,600],"nice":false},"axis":null},"y2":{"datum":564.9}}},
    {"mark":{"type":"text","text":"Control","align":"right"},
     "encoding":{"x":{"datum":0.845,"type":"quantitative","scale":{"domain":[0,1],"nice":false},"axis":null},"y":{"datum":610,"type":"quantitative","scale":{"domain":[0,600],"nice":false},"axis":null}}},
    {"mark":{"type":"text","text":"in 100 µM CPZ","align":"right"},
     "encoding":{"x":{"datum":0.8424,"type":"quantitative","scale":{"domain":[0,1],"nice":false},"axis":null},"y":{"datum":572,"type":"quantitative","scale":{"domain":[0,600],"nice":false},"axis":null}}},
    {"mark":{"type":"text","text":"E","fontSize":22,"fontWeight":"bold","align":"left"},
     "encoding":{"x":{"datum":0.318,"type":"quantitative","scale":{"domain":[0,1],"nice":false},"axis":null},"y":{"datum":618.8,"type":"quantitative","scale":{"domain":[0,600],"nice":false},"axis":null}}}
   ]
  }
 ],
 "resolve":{"scale":{"x":"independent","y":"independent"}}
}
]
}
